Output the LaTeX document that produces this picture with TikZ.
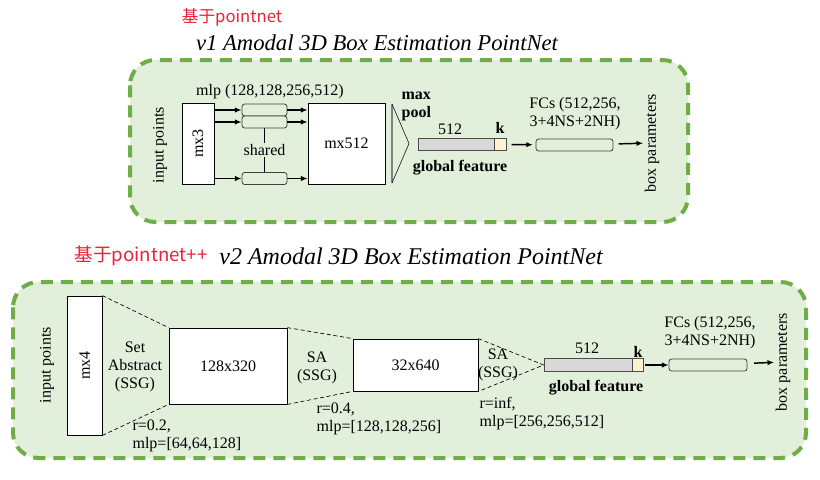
\documentclass[tikz,border=0pt]{standalone}
\usepackage{fontspec}
\setmainfont{Liberation Serif}
\newfontfamily\cjk{Noto Sans CJK SC}
\usetikzlibrary{arrows.meta}
\usepackage{xcolor}
\definecolor{panelgreen}{RGB}{112,173,71}
\definecolor{panelfill}{RGB}{226,239,218}
\definecolor{featgray}{RGB}{217,217,217}
\definecolor{kyellow}{RGB}{255,242,204}
\definecolor{notered}{RGB}{236,32,56}
\newdimen\px \px=0.75pt
\newcommand{\lbl}{\fontsize{12}{13.5}\selectfont}

\begin{document}
\begin{tikzpicture}[x=0.75pt, y=-0.75pt,
panel/.style = {draw=panelgreen, fill=panelfill, line width=3pt,
            dash pattern=on 9pt off 6pt, rounded corners=19pt},
blk/.style 2 args = {draw, fill=white, line width=0.6pt, inner sep=0pt,
            minimum width=#1\px, minimum height=#2\px, font=\lbl},
mlpbox/.style = {draw=black!75, fill=panelfill, line width=0.6pt, rounded corners=2pt,
            inner sep=0pt, minimum width=#1\px, minimum height=12\px},
featbox/.style 2 args = {draw=black!70, fill=#1, line width=0.6pt, inner sep=0pt,
            minimum width=#2\px, minimum height=12.5\px},
lab/.style = {font=\lbl, inner sep=1pt, align=center},
note/.style = {font=\cjk\fontsize{#1}{16}\selectfont, text=notered},
title/.style = {font=\fontsize{#1}{20}\selectfont\itshape},
arr/.style = {-{Latex[length=5pt,width=4pt]}, line width=1.1pt},
sa/.style = {dash pattern=on 3pt off 2pt, line width=0.5pt}
                ]
    \useasboundingbox (0,0) rectangle (820,479);

    % v1: pointnet
    \node[note=12.5] (note1) at (232,17) {基于pointnet};
    \node[title=17] (title1) at (377,43) {v1 Amodal 3D Box Estimation PointNet};
    \draw[panel] (130,60) rectangle (688,222);

    \node[lab, rotate=90] (in1) at (160,145) {input points};
    \node[blk={32}{81}] (mx3) at (198,143.5) {\rotatebox{90}{mx3}};
    \node[blk={77}{81}] (mx512) at (346.5,143.5) {mx512};
    \foreach \y/\m in {110/m1, 122/m2, 178.5/m3}{
        \node[mlpbox=45] (\m) at (264.5,\y) {};
        \draw[arr] (mx3.east |- \m) -- (\m);
        \draw[arr] (\m) -- (\m -| mx512.west);
    }
    \node[lab] (shared) at (264.5,150) {shared};
    \draw[line width=0.8pt] (m2) -- (shared);
    \draw[line width=0.8pt] (shared) -- (m3);
    \node[lab] (mlp1) at (270,92) {mlp (128,128,256,512)};

    \draw[gray, line width=1.2pt] (392,104) -- (392,183);
    \draw (392,104) -- (409,143.5) -- (392,183);
    \node[lab, font=\lbl\bfseries, align=left, anchor=west] (pool1) at (400,106) {max\\pool};

    \node[featbox={featgray}{76}] (g1) at (456,144.5) {};
    \node[featbox={kyellow}{12}] (k1) at (500,144.5) {};
    \node[lab] (n1) at (450,129) {512};
    \node[lab, font=\lbl\bfseries] (kk1) at (500,128) {k};
    \node[lab, font=\lbl\bfseries] (gf1) at (460,168) {global feature};
    \node[mlpbox=77] (fc1) at (574.5,145) {};
    \draw[arr, shorten <=4pt, shorten >=2pt] (k1) -- (fc1);
    \node[lab] (fcs1) at (575,114) {FCs (512,256,\\3+4NS+2NH)};
    \node[lab, rotate=90] (bp1) at (652,143) {box parameters};
    \draw[arr, shorten <=4pt] (fc1) -- (bp1);

    % v2: pointnet++
    \node[note=14] (note2) at (141,256) {基于pointnet++};
    \node[title=18] (title2) at (411,256) {v2 Amodal 3D Box Estimation PointNet};
    \draw[panel] (13,282) rectangle (806,458);

    \node[lab, rotate=90] (in2) at (47,365) {input points};
    \node[blk={35}{139}] (mx4) at (84.5,365.5) {\rotatebox{90}{mx4}};
    \node[blk={118}{76}] (f1) at (228,366) {128x320};
    \node[blk={125}{52}] (f2) at (415.5,365) {32x640};
    \node[featbox={featgray}{88}] (g2) at (588,365) {};
    \node[featbox={kyellow}{11}] (k2) at (637.5,365) {};
    \foreach \a/\b in {mx4/f1, f1/f2}{
        \draw[sa] (\a.north east) -- (\b.north west);
        \draw[sa] (\a.south east) -- (\b.south west);
    }
    \draw[sa] (f2.north east) -- (g2.west) -- (f2.south east);

    \node[lab] (sa1) at (135,367) {Set\\Abstract\\(SSG)};
    \node[lab] (sa2) at (317,368) {SA\\(SSG)};
    \node[lab] (sa3) at (498,365) {SA\\(SSG)};
    \node[lab, align=left, anchor=west] (r1) at (131,436) {r=0.2,\\mlp=[64,64,128]};
    \node[lab, align=left, anchor=west] (r2) at (315,419) {r=0.4,\\mlp=[128,128,256]};
    \node[lab, align=left, anchor=west] (r3) at (478,414) {r=inf,\\mlp=[256,256,512]};

    \node[lab] (n2) at (587,348) {512};
    \node[lab, font=\lbl\bfseries] (kk2) at (638,352) {k};
    \node[lab, font=\lbl\bfseries] (gf2) at (596,388) {global feature};
    \node[mlpbox=78] (fc2) at (708,365) {};
    \draw[arr, shorten <=1pt] (k2) -- (fc2);
    \node[lab] (fcs2) at (710,333) {FCs (512,256,\\3+4NS+2NH)};
    \node[lab, rotate=90] (bp2) at (783,362) {box parameters};
    \draw[arr, shorten <=5pt] (fc2) -- (bp2);
\end{tikzpicture}
\end{document}
